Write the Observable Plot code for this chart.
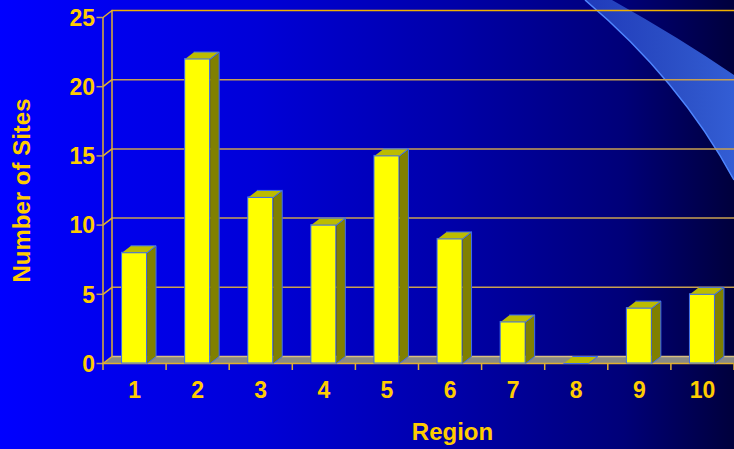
<!DOCTYPE html>
<html>
<head>
<meta charset="utf-8">
<script src="https://cdn.jsdelivr.net/npm/d3@7"></script>
<script src="https://cdn.jsdelivr.net/npm/@observablehq/plot@0.6"></script>
<style>
  html, body { margin: 0; padding: 0; }
  body { width: 734px; height: 449px; overflow: hidden; }
  #wrap {
    position: relative; width: 734px; height: 449px;
    background: linear-gradient(to right, #0000ff 0%, #0000d8 35%, #0000a8 62%, #000078 85%, #00003c 100%);
    font-family: "Liberation Sans", Arial, sans-serif;
  }
  #deco { position: absolute; left: 0; top: 0; }
  #chart { position: absolute; left: 0; top: 0; }
</style>
</head>
<body>
<div id="wrap">
  <svg id="deco" width="734" height="449">
    <defs>
      <linearGradient id="sw" x1="0" x2="1" y1="0" y2="0">
        <stop offset="0" stop-color="#3a6ae8" stop-opacity="0.55"/>
        <stop offset="1" stop-color="#3c6ef0" stop-opacity="0.85"/>
      </linearGradient>
    </defs>
    <path d="M585,0 Q680,80 734,180 L734,75 Q680,38 612,0 Z" fill="url(#sw)"/>
    <path d="M585,0 Q680,80 734,180" fill="none" stroke="#4f86ff" stroke-width="1.5"/>
  </svg>
  <div id="chart"></div>
</div>
<script>
const regions = [1, 2, 3, 4, 5, 6, 7, 8, 9, 10];
const sites = [8, 22, 12, 10, 15, 9, 3, 0, 4, 5];
const yTicks = [0, 5, 10, 15, 20, 25];

const gold = "#ffcc00";
const lineGold = "#e0b030";
const tickCol = "#c0a060";
const edge = "#3d6cf2";
const PXX = 63.1, PXY = 13.84;   // pixels per unit
const HW = 0.198;                // half bar width (category units)
const DX = 9 / PXX;              // depth in x (category units)
const DY = 7 / PXY;              // depth in y (value units)
const font = "'Liberation Sans', Arial, sans-serif";

const data = regions.map((r, i) => ({r, v: sites[i]}));

const sides = [], tops = [];
data.forEach(d => {
  const x1 = d.r - HW, x2 = d.r + HW;
  if (d.v > 0) {
    [[x2, 0], [x2 + DX, DY], [x2 + DX, d.v + DY], [x2, d.v]].forEach(([x, y]) => sides.push({id: d.r, x, y}));
  }
  [[x1, d.v], [x2, d.v], [x2 + DX, d.v + DY], [x1 + DX, d.v + DY]].forEach(([x, y]) => tops.push({id: d.r, x, y}));
});
const floor = [[0.5, 0], [10.5, 0], [10.5 + DX, DY], [0.5 + DX, DY]].map(([x, y]) => ({x, y}));
const tickDiag = yTicks.flatMap(t => [{t, x: 0.5, y: t}, {t, x: 0.5 + DX, y: t + DY}]);
const xBounds = d3.range(0.5, 10.6, 1);

const plot = Plot.plot({
  width: 734,
  height: 449,
  marginLeft: 102.5,
  marginRight: 0.5,
  marginTop: 17,
  marginBottom: 86,
  style: {background: "transparent", overflow: "visible", fontFamily: font},
  x: {type: "linear", domain: [0.5, 10.5], axis: null},
  y: {type: "linear", domain: [0, 25], axis: null},
  marks: [
    // floor
    Plot.line(floor, {x: "x", y: "y", fill: "#8a8a84", stroke: "none"}),
    Plot.ruleY([DY], {x1: 0.5 + DX, x2: 10.5 + DX, stroke: "#d8c080", strokeWidth: 1.5}),
    // back-wall gridlines
    Plot.ruleY(yTicks.filter(t => t > 0), {x1: 0.5 + DX, x2: 10.5 + DX, y: t => t + DY, stroke: t => t === 25 ? "#f0b000" : "#c8a050", strokeWidth: 1.5}),
    // left wall lines
    Plot.ruleX([0.5 + DX], {y1: DY, y2: 25 + DY, stroke: lineGold, strokeWidth: 1.5}),
    Plot.line(tickDiag, {x: "x", y: "y", z: "t", stroke: lineGold, strokeWidth: 1.5}),
    Plot.ruleX([0.5], {y1: 0, y2: 25, stroke: lineGold, strokeWidth: 1.5}),
    // front floor edge
    Plot.ruleY([0], {x1: 0.5, x2: 10.5, stroke: lineGold, strokeWidth: 1.5}),
    // y ticks
    Plot.ruleY(yTicks, {x1: 0.5 - 6 / PXX, x2: 0.5, stroke: tickCol, strokeWidth: 1.5}),
    // x ticks
    Plot.ruleX(xBounds, {y1: 0, y2: -7 / PXY, stroke: lineGold, strokeWidth: 1.5}),
    // bars: front faces
    Plot.rect(data.filter(d => d.v > 0), {x1: d => d.r - HW, x2: d => d.r + HW, y1: 0, y2: "v", fill: "#ffff00", stroke: edge, strokeWidth: 1}),
    // side faces
    Plot.line(sides, {x: "x", y: "y", z: "id", fill: "#808000", stroke: edge, strokeWidth: 1}),
    // top faces
    Plot.line(tops, {x: "x", y: "y", z: "id", fill: "#bcbc00", stroke: edge, strokeWidth: 1}),
    // tick labels
    Plot.text(regions, {x: d => d, y: 0, text: d => String(d), dy: 27, fill: gold, fontSize: 23, fontWeight: "bold"}),
    Plot.text(yTicks, {x: 0.5, y: d => d, text: d => String(d), dx: -8, dy: 1, fill: gold, fontSize: 23, fontWeight: "bold", textAnchor: "end"}),
    // axis titles
    Plot.text(["Region"], {frameAnchor: "bottom", dx: 34, dy: 76, text: d => d, fill: gold, fontSize: 24, fontWeight: "bold", textAnchor: "middle"}),
    Plot.text(["Number of Sites"], {frameAnchor: "left", dx: -81, rotate: -90, text: d => d, fill: gold, fontSize: 24, fontWeight: "bold", textAnchor: "middle"})
  ]
});

document.getElementById("chart").appendChild(plot);
</script>
</body>
</html>
